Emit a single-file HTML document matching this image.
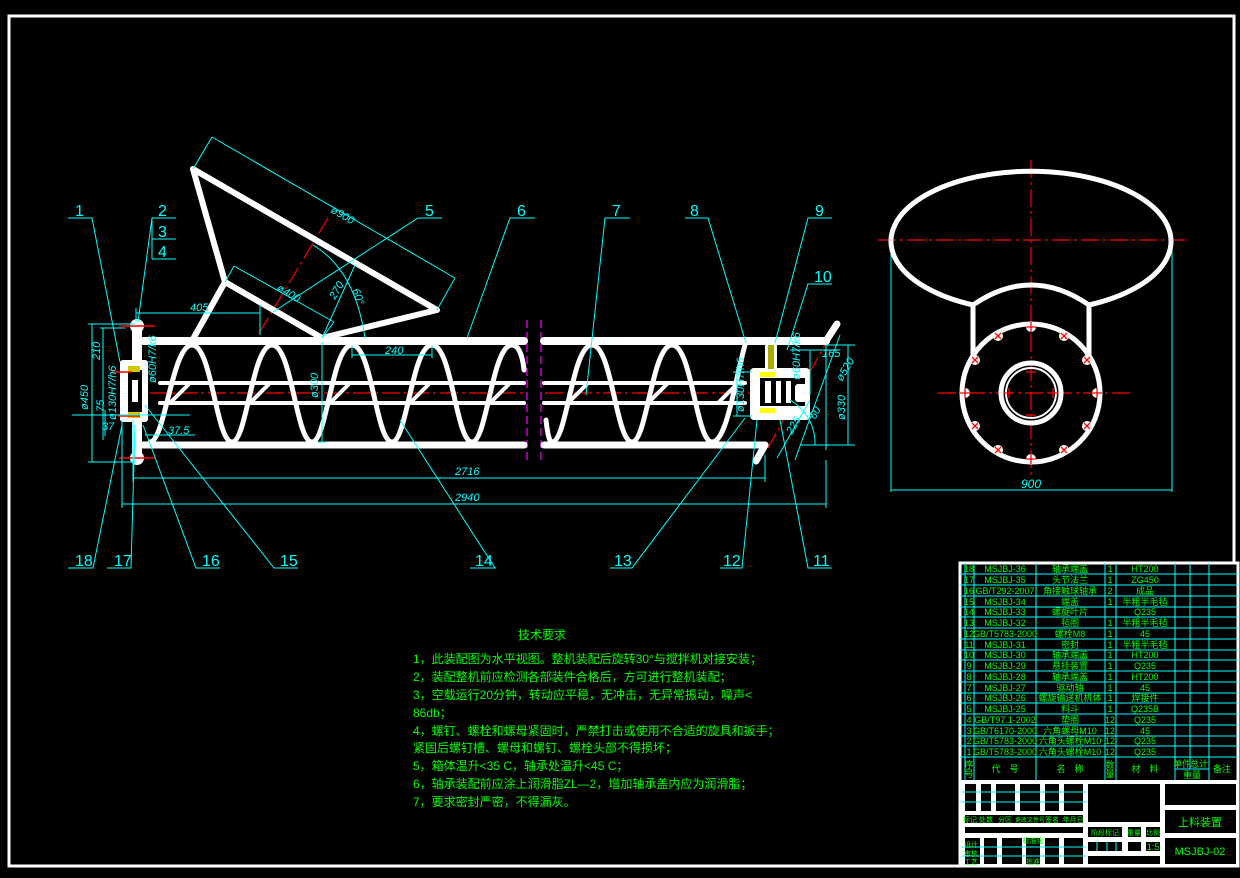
<!DOCTYPE html>
<html><head><meta charset="utf-8"><style>
html,body{margin:0;padding:0;background:#000;}
svg{display:block;}
text{font-family:"Liberation Sans","Noto Sans CJK SC",sans-serif;}
.c{fill:#0ff;font-size:16px;}
.d{fill:#0ff;font-size:11px;font-style:italic;}
.g{fill:#0f0;font-size:12px;}
.t{fill:#0f0;font-size:9px;text-anchor:middle;}
</style></head><body>
<svg width="1240" height="878" viewBox="0 0 1240 878" xmlns="http://www.w3.org/2000/svg">
<rect width="1240" height="878" fill="#000"/>
<rect x="9" y="16" width="1225" height="850" fill="none" stroke="#fff" stroke-width="3"/>

<!-- centerlines -->
<g stroke="#f00" stroke-width="1.2" stroke-dasharray="18,4,3,4" fill="none">
<line x1="150" y1="393" x2="525" y2="393"/>
<line x1="545" y1="393" x2="810" y2="393"/>
<line x1="328" y1="218" x2="258" y2="335"/>
<line x1="832" y1="332" x2="768" y2="448"/>
<line x1="878" y1="240" x2="1185" y2="240"/>
<line x1="1031" y1="160" x2="1031" y2="475"/>
<line x1="938" y1="393" x2="1130" y2="393"/>
</g>
<g stroke="#f0f" stroke-width="1.2" stroke-dasharray="8,4">
<line x1="527" y1="320" x2="527" y2="460"/>
<line x1="541" y1="320" x2="541" y2="460"/>
</g>

<!-- conveyor body -->
<g stroke="#fff" fill="none" stroke-linecap="round">
<line x1="143" y1="341" x2="524" y2="341" stroke-width="8"/>
<line x1="544" y1="341" x2="826" y2="341" stroke-width="8"/>
<line x1="143" y1="445" x2="524" y2="445" stroke-width="7"/>
<line x1="544" y1="445" x2="765" y2="445" stroke-width="7"/>
<line x1="160" y1="383" x2="524" y2="383" stroke-width="4"/>
<line x1="544" y1="383" x2="745" y2="383" stroke-width="4"/>
<line x1="160" y1="403" x2="524" y2="403" stroke-width="4"/>
<line x1="544" y1="403" x2="745" y2="403" stroke-width="4"/>
<path stroke-width="5" d="M150,442 C165,442 172,345 192,345 C212,345 216,442 232,442 C247,442 252,345 272,345 C292,345 296,442 312,442 C327,442 332,345 352,345 C372,345 376,442 392,442 C407,442 412,345 432,345 C452,345 456,442 472,442 C487,442 492,345 512,345 C520,345 523,360 524,370"/>
<path stroke-width="5" d="M546,420 C548,438 550,442 552,442 C567,442 572,345 592,345 C612,345 616,442 632,442 C647,442 652,345 672,345 C692,345 696,442 712,442 C727,442 735,380 745,345"/>
<g stroke-width="4">
<line x1="170" y1="403" x2="190" y2="383"/><line x1="250" y1="403" x2="270" y2="383"/>
<line x1="330" y1="403" x2="350" y2="383"/><line x1="410" y1="403" x2="430" y2="383"/>
<line x1="490" y1="403" x2="510" y2="383"/><line x1="568" y1="403" x2="588" y2="383"/>
<line x1="648" y1="403" x2="668" y2="383"/><line x1="718" y1="403" x2="738" y2="383"/>
</g>
<!-- hopper -->
<g stroke-width="6" stroke-linejoin="round">
<polyline points="193,169 437,310 322,338"/>
<polyline points="193,169 225,282 322,338"/>
<line x1="225" y1="282" x2="193" y2="339"/>
</g>
<!-- right end plate -->
<line x1="826" y1="341" x2="837" y2="324" stroke-width="7"/>
<line x1="765" y1="445" x2="756" y2="461" stroke-width="7"/>
</g>
<!-- left flange -->
<g fill="#fff">
<rect x="132" y="322" width="10" height="138"/>
<circle cx="137" cy="326" r="7"/><circle cx="137" cy="458" r="7"/>
<rect x="120" y="360" width="28" height="62" rx="3"/>
<rect x="128" y="370" width="14" height="42" fill="#000"/>
<rect x="132" y="380" width="6" height="22" fill="#fff"/>
<rect x="128" y="366" width="12" height="6" fill="#cc0"/><rect x="128" y="412" width="12" height="6" fill="#cc0"/>
<!-- right bearing -->
<rect x="765" y="342" width="12" height="30"/>
<rect x="750" y="368" width="60" height="52" rx="4"/>
<rect x="760" y="378" width="45" height="28" fill="#000"/>
<rect x="765" y="381" width="6" height="22"/><rect x="776" y="381" width="5" height="22"/><rect x="786" y="381" width="5" height="22"/>
<rect x="768" y="345" width="6" height="24" fill="#aa0"/>
<rect x="760" y="372" width="15" height="5" fill="#ff0"/><rect x="760" y="408" width="15" height="5" fill="#ff0"/>
<rect x="795" y="384" width="12" height="18" rx="3"/>
</g>
<g stroke="#f00" stroke-width="1.5">
<line x1="119" y1="326" x2="155" y2="326"/><line x1="119" y1="458" x2="155" y2="458"/>
<line x1="112" y1="372" x2="132" y2="372"/><line x1="118" y1="416" x2="140" y2="416"/>
</g>

<!-- dimensions -->
<g stroke="#0ff" stroke-width="1" fill="none">
<line x1="133" y1="478" x2="765" y2="478"/><line x1="133" y1="420" x2="133" y2="482"/><line x1="765" y1="455" x2="765" y2="482"/>
<line x1="122" y1="504" x2="826" y2="504"/><line x1="122" y1="420" x2="122" y2="508"/><line x1="826" y1="460" x2="826" y2="508"/>
<line x1="92" y1="324" x2="92" y2="462"/><line x1="88" y1="324" x2="135" y2="324"/><line x1="88" y1="462" x2="135" y2="462"/>
<line x1="103" y1="328" x2="103" y2="440"/><line x1="100" y1="328" x2="125" y2="328"/>
<line x1="105" y1="410" x2="105" y2="436"/>
<line x1="136" y1="313" x2="260" y2="313"/><line x1="260" y1="305" x2="260" y2="335"/><line x1="136" y1="308" x2="136" y2="322"/>
<line x1="322" y1="342" x2="322" y2="442"/><line x1="318" y1="442" x2="326" y2="442"/>
<line x1="352" y1="355" x2="432" y2="355"/><line x1="352" y1="346" x2="352" y2="358"/><line x1="432" y1="346" x2="432" y2="358"/>
<line x1="212" y1="11" x2="192" y2="170" transform="translate(0,0)" stroke="none"/>
<line x1="212" y1="137" x2="193" y2="169"/><line x1="212" y1="137" x2="455" y2="278"/><line x1="455" y1="278" x2="437" y2="310"/>
<line x1="234" y1="266" x2="225" y2="282"/><line x1="234" y1="266" x2="334" y2="322"/><line x1="334" y1="322" x2="322" y2="338"/>
<line x1="355" y1="265" x2="322" y2="338"/>
<path d="M313,245 Q355,270 365,338"/>
<line x1="152" y1="298" x2="152" y2="298"/>
<line x1="72" y1="415" x2="135" y2="415"/><line x1="135" y1="415" x2="190" y2="415"/>
<line x1="145" y1="435" x2="195" y2="435"/>
<line x1="810" y1="350" x2="810" y2="395"/><line x1="790" y1="350" x2="840" y2="350"/>
<line x1="826" y1="345" x2="826" y2="450"/><line x1="848" y1="345" x2="848" y2="445"/><line x1="800" y1="445" x2="855" y2="445"/><line x1="826" y1="345" x2="855" y2="345"/>
<line x1="840" y1="335" x2="795" y2="460"/><line x1="810" y1="400" x2="777" y2="458"/>
<path d="M790,400 A50,50 0 0 1 815,445"/>
<line x1="737" y1="372" x2="737" y2="416"/><line x1="733" y1="372" x2="752" y2="372"/><line x1="733" y1="416" x2="752" y2="416"/>
<line x1="891" y1="240" x2="891" y2="492"/><line x1="1172" y1="240" x2="1172" y2="492"/><line x1="891" y1="490" x2="1172" y2="490"/>
<!-- leaders -->
<polyline points="68,218 92,218 120,362"/>
<polyline points="176,218 152,218 138,322"/><line x1="152" y1="218" x2="152" y2="259"/><line x1="152" y1="239" x2="176" y2="239"/><line x1="152" y1="259" x2="176" y2="259"/>
<polyline points="442,218 418,218 273,312"/>
<polyline points="535,218 510,218 467,338"/>
<polyline points="630,218 605,218 586,395"/>
<polyline points="685,218 708,218 746,343"/>
<polyline points="832,218 808,218 775,343"/>
<polyline points="832,284 808,284 787,350"/>
<polyline points="832,568 808,568 780,420"/>
<polyline points="720,568 742,568 757,420"/>
<polyline points="610,568 632,568 745,418"/>
<polyline points="470,568 495,568 400,420"/>
<polyline points="298,568 274,568 145,405"/>
<polyline points="220,568 196,568 143,425"/>
<polyline points="107,568 131,568 135,425"/>
<polyline points="68,568 93,568 122,425"/>
</g>
<g class="c">
<text x="75" y="216">1</text><text x="158" y="216">2</text><text x="158" y="237">3</text><text x="158" y="257">4</text>
<text x="425" y="216">5</text><text x="517" y="216">6</text><text x="612" y="216">7</text><text x="690" y="216">8</text>
<text x="815" y="216">9</text><text x="814" y="282">10</text>
<text x="75" y="566">18</text><text x="114" y="566">17</text><text x="202" y="566">16</text><text x="280" y="566">15</text>
<text x="475" y="566">14</text><text x="614" y="566">13</text><text x="723" y="566">12</text><text x="813" y="566">11</text>
</g>
<g class="d">
<text x="455" y="475">2716</text><text x="455" y="501">2940</text>
<text x="190" y="311">405</text><text x="385" y="354">240</text><text x="168" y="434">37.5</text><text x="102" y="430">37</text>
<text x="1021" y="488" font-size="12">900</text><text x="822" y="357">165</text>
<text transform="translate(330,212) rotate(30)">ø900</text>
<text transform="translate(276,290) rotate(30)">ø400</text>
<text transform="translate(335,300) rotate(-60)">270</text>
<text transform="translate(352,290) rotate(70)">60°</text>
<text transform="translate(88,410) rotate(-90)">ø450</text>
<text transform="translate(100,360) rotate(-90)">210</text>
<text transform="translate(104,412) rotate(-90)">75</text>
<text transform="translate(116,420) rotate(-90)">ø130H7/h6</text>
<text transform="translate(156,383) rotate(-90)">ø60H7/k6</text>
<text transform="translate(318,398) rotate(-90)">ø300</text>
<text transform="translate(800,380) rotate(-90)">ø60H7/k6</text>
<text transform="translate(744,412) rotate(-90)">ø130H7/h6</text>
<text transform="translate(845,420) rotate(-90)">ø330</text>
<text transform="translate(842,382) rotate(-60)">ø520</text>
<text transform="translate(792,435) rotate(-60)">225</text>
<text transform="translate(815,420) rotate(-60)">60</text>
</g>

<!-- side view -->
<g stroke="#fff" stroke-width="5" fill="none">
<path d="M973,305 A140,70 0 1 1 1089,305"/>
<path d="M973,355 L973,305 Q1031,265 1089,305 L1089,355"/>
<circle cx="1031" cy="393" r="69"/>
<circle cx="1031" cy="393" r="30"/>
<circle cx="1031" cy="393" r="25" stroke-width="2"/>
</g>
<g fill="#fff">
<circle cx="1031" cy="327" r="5"/><circle cx="1031" cy="459" r="5"/><circle cx="965" cy="393" r="5"/><circle cx="1097" cy="393" r="5"/>
<circle cx="998" cy="336" r="5"/><circle cx="1064" cy="336" r="5"/><circle cx="975" cy="360" r="5"/><circle cx="1087" cy="360" r="5"/>
<circle cx="975" cy="426" r="5"/><circle cx="1087" cy="426" r="5"/><circle cx="998" cy="450" r="5"/><circle cx="1064" cy="450" r="5"/>
</g>
<g stroke="#f00" stroke-width="1.3">
<path d="M1026,327h10M1031,322v10M1026,459h10M1031,454v10M960,393h10M965,388v10M1092,393h10M1097,388v10"/>
<path d="M1026,372h10M1026,415h10M1004,393h10M1048,393h10M1009,388v10M1053,388v10"/>
<path d="M995,333l6,6M1001,333l-6,6M1061,333l6,6M1067,333l-6,6M972,357l6,6M978,357l-6,6M1084,357l6,6M1090,357l-6,6M972,423l6,6M978,423l-6,6M1084,423l6,6M1090,423l-6,6M995,447l6,6M1001,447l-6,6M1061,447l6,6M1067,447l-6,6"/>
</g>

<!-- tech requirements -->
<g class="g">
<text x="518" y="639">技术要求</text>
<text x="413" y="663">1，此装配图为水平视图。整机装配后旋转30°与搅拌机对接安装；</text>
<text x="413" y="681">2，装配整机前应检测各部装件合格后，方可进行整机装配；</text>
<text x="413" y="699">3，空载运行20分钟，转动应平稳，无冲击，无异常振动，噪声&lt;</text>
<text x="413" y="717">86db；</text>
<text x="413" y="735">4，螺钉、螺栓和螺母紧固时，严禁打击或使用不合适的旋具和扳手；</text>
<text x="413" y="752">紧固后螺钉槽、螺母和螺钉、螺栓头部不得损坏；</text>
<text x="413" y="770">5，箱体温升&lt;35 C，轴承处温升&lt;45 C；</text>
<text x="413" y="788">6，轴承装配前应涂上润滑脂ZL—2，增加轴承盖内应为润滑脂；</text>
<text x="413" y="806">7，要求密封严密，不得漏灰。</text>
</g>

<!-- title block -->
<rect x="960" y="563" width="278" height="303" fill="#000" stroke="#fff" stroke-width="3"/>
<g stroke="#0ff" stroke-width="1">
<line x1="965" y1="563" x2="965" y2="780"/><line x1="974" y1="563" x2="974" y2="780"/>
<line x1="1036" y1="563" x2="1036" y2="780"/><line x1="1105" y1="563" x2="1105" y2="780"/>
<line x1="1116" y1="563" x2="1116" y2="780"/><line x1="1175" y1="563" x2="1175" y2="780"/>
<line x1="1190" y1="563" x2="1190" y2="769"/><line x1="1209" y1="563" x2="1209" y2="780"/>
<line x1="1175" y1="769" x2="1209" y2="769"/>
<path d="M960,574H1238M960,585H1238M960,596H1238M960,607H1238M960,617H1238M960,628H1238M960,639H1238M960,650H1238M960,660H1238M960,671H1238M960,682H1238M960,693H1238M960,703H1238M960,714H1238M960,725H1238M960,736H1238M960,746H1238M960,757H1238"/>
</g>
<g class="t">
<text x="969" y="572">18</text><text x="1005" y="572">MSJBJ-36</text><text x="1070" y="572">轴承端盖</text><text x="1110" y="572">1</text><text x="1145" y="572">HT200</text>
<text x="969" y="583">17</text><text x="1005" y="583">MSJBJ-35</text><text x="1070" y="583">头节法兰</text><text x="1110" y="583">1</text><text x="1145" y="583">ZG450</text>
<text x="969" y="594">16</text><text x="1005" y="594">GB/T292-2007</text><text x="1070" y="594">角接触球轴承</text><text x="1110" y="594">2</text><text x="1145" y="594">成品</text>
<text x="969" y="605">15</text><text x="1005" y="605">MSJBJ-34</text><text x="1070" y="605">端盖</text><text x="1110" y="605">1</text><text x="1145" y="605">半粗半毛毡</text>
<text x="969" y="615">14</text><text x="1005" y="615">MSJBJ-33</text><text x="1070" y="615">螺旋叶片</text><text x="1145" y="615">Q235</text>
<text x="969" y="626">13</text><text x="1005" y="626">MSJBJ-32</text><text x="1070" y="626">毡圈</text><text x="1110" y="626">1</text><text x="1145" y="626">半粗半毛毡</text>
<text x="969" y="637">12</text><text x="1005" y="637">GB/T5783-2000</text><text x="1070" y="637">螺栓M8</text><text x="1110" y="637">1</text><text x="1145" y="637">45</text>
<text x="969" y="648">11</text><text x="1005" y="648">MSJBJ-31</text><text x="1070" y="648">密封</text><text x="1110" y="648">1</text><text x="1145" y="648">半粗半毛毡</text>
<text x="969" y="658">10</text><text x="1005" y="658">MSJBJ-30</text><text x="1070" y="658">轴承端盖</text><text x="1110" y="658">1</text><text x="1145" y="658">HT200</text>
<text x="969" y="669">9</text><text x="1005" y="669">MSJBJ-29</text><text x="1070" y="669">悬挂装置</text><text x="1110" y="669">1</text><text x="1145" y="669">Q235</text>
<text x="969" y="680">8</text><text x="1005" y="680">MSJBJ-28</text><text x="1070" y="680">轴承端盖</text><text x="1110" y="680">1</text><text x="1145" y="680">HT200</text>
<text x="969" y="691">7</text><text x="1005" y="691">MSJBJ-27</text><text x="1070" y="691">驱动轴</text><text x="1110" y="691">1</text><text x="1145" y="691">45</text>
<text x="969" y="701">6</text><text x="1005" y="701">MSJBJ-26</text><text x="1070" y="701">螺旋输送机机体</text><text x="1110" y="701">1</text><text x="1145" y="701">焊接件</text>
<text x="969" y="712">5</text><text x="1005" y="712">MSJBJ-25</text><text x="1070" y="712">料斗</text><text x="1110" y="712">1</text><text x="1145" y="712">Q235B</text>
<text x="969" y="723">4</text><text x="1005" y="723">GB/T97.1-2002</text><text x="1070" y="723">垫圈</text><text x="1110" y="723">12</text><text x="1145" y="723">Q235</text>
<text x="969" y="734">3</text><text x="1005" y="734">GB/T6170-2000</text><text x="1070" y="734">六角螺母M10</text><text x="1110" y="734">12</text><text x="1145" y="734">45</text>
<text x="969" y="744">2</text><text x="1005" y="744">GB/T5783-2000</text><text x="1070" y="744">六角头螺栓M10</text><text x="1110" y="744">12</text><text x="1145" y="744">Q235</text>
<text x="969" y="755">1</text><text x="1005" y="755">GB/T5783-2000</text><text x="1070" y="755">六角头螺栓M10</text><text x="1110" y="755">12</text><text x="1145" y="755">Q235</text>
<text x="969" y="768">序</text><text x="969" y="777">号</text><text x="1005" y="772">代　号</text><text x="1070" y="772">名　称</text>
<text x="1110" y="768">数</text><text x="1110" y="777">量</text><text x="1145" y="772">材　料</text>
<text x="1182" y="767">单件</text><text x="1199" y="767">总计</text><text x="1192" y="778">重量</text><text x="1222" y="772">备注</text>
</g>
<!-- lower title block: white with black cells -->
<rect x="960" y="780" width="278" height="86" fill="#fff"/>
<g fill="#000">
<rect x="965" y="784" width="11" height="27"/><rect x="981" y="784" width="10" height="27"/><rect x="996" y="784" width="19" height="27"/>
<rect x="1020" y="784" width="20" height="27"/><rect x="1045" y="784" width="14" height="27"/><rect x="1064" y="784" width="19" height="27"/>
<rect x="965" y="815" width="118" height="8"/>
<rect x="965" y="827" width="118" height="6"/>
<rect x="965" y="838" width="15" height="26"/><rect x="984" y="838" width="13" height="26"/><rect x="1002" y="838" width="20" height="26"/>
<rect x="1026" y="838" width="14" height="26"/><rect x="1045" y="838" width="14" height="26"/><rect x="1064" y="838" width="19" height="26"/>
<rect x="1088" y="784" width="72" height="38"/>
<rect x="1088" y="827" width="34" height="10"/><rect x="1128" y="827" width="13" height="10"/><rect x="1146" y="827" width="14" height="10"/>
<rect x="1088" y="842" width="34" height="9"/><rect x="1128" y="842" width="13" height="9"/><rect x="1146" y="842" width="14" height="9"/>
<rect x="1088" y="856" width="72" height="8"/>
<rect x="1165" y="784" width="71" height="21"/><rect x="1165" y="810" width="71" height="23"/><rect x="1165" y="838" width="71" height="26"/>
</g>
<g stroke="#0ff" stroke-width="1">
<line x1="962" y1="792" x2="1086" y2="792"/><line x1="962" y1="802" x2="1086" y2="802"/>
<line x1="962" y1="847" x2="1086" y2="847"/><line x1="962" y1="856" x2="1086" y2="856"/>
<line x1="1097" y1="842" x2="1097" y2="851"/><line x1="1107" y1="842" x2="1107" y2="851"/><line x1="1116" y1="842" x2="1116" y2="851"/>
</g>
<g class="t" font-size="7">
<text x="970" y="822" font-size="7">标记</text><text x="986" y="822" font-size="7">处数</text><text x="1005" y="822" font-size="7">分区</text>
<text x="1030" y="822" font-size="6">更改文件号</text><text x="1052" y="822" font-size="7">签名</text><text x="1073" y="822" font-size="7">年月日</text>
<text x="971" y="847" font-size="7">设计</text><text x="971" y="856" font-size="7">审核</text><text x="971" y="864" font-size="7">工艺</text>
<text x="1033" y="843" font-size="7">标准化</text><text x="1033" y="864" font-size="7">批准</text>
<text x="1105" y="835" font-size="7">阶段标记</text><text x="1134" y="835" font-size="7">重量</text><text x="1153" y="835" font-size="7">比例</text>
<text x="1153" y="850">1:5</text>
<text x="1200" y="826" font-size="11">上料装置</text>
<text x="1200" y="855" font-size="11">MSJBJ-02</text>
</g>
</svg>
</body></html>
